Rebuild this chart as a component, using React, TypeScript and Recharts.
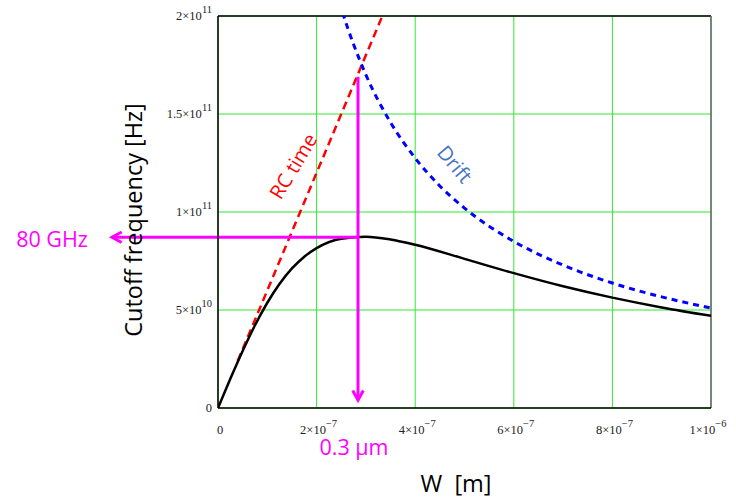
import { LineChart, Line, XAxis, YAxis, CartesianGrid, ReferenceLine } from "recharts";

// W [m] and cutoff frequency [Hz]
const totalW = [0, 2.5e-8, 5e-8, 7.5e-8, 1e-7, 1.25e-7, 1.5e-7, 1.75e-7, 2e-7, 2.5e-7, 3e-7, 3.5e-7, 4e-7, 5e-7, 6e-7, 7e-7, 8e-7, 9e-7, 1e-6];
const totalF = [0, 1.49e10, 2.91e10, 4.22e10, 5.37e10, 6.34e10, 7.12e10, 7.72e10, 8.16e10, 8.64e10, 8.74e10, 8.6e10, 8.33e10, 7.61e10, 6.88e10, 6.21e10, 5.63e10, 5.13e10, 4.7e10];

const rcW = [4e-8, 3.4e-7];
const rcF = [2.4e10, 2.04e11];

const driftW = [2.4e-7, 2.5e-7, 3e-7, 3.5e-7, 4e-7, 4.5e-7, 5e-7, 6e-7, 7e-7, 8e-7, 9e-7, 1e-6];
const driftF = [2.125e11, 2.04e11, 1.7e11, 1.457e11, 1.275e11, 1.133e11, 1.02e11, 8.5e10, 7.29e10, 6.375e10, 5.67e10, 5.1e10];

const xTicks = [0, 2e-7, 4e-7, 6e-7, 8e-7, 1e-6];
const xTickBase = ["0", "2×10", "4×10", "6×10", "8×10", "1×10"];
const xTickExp = ["", "−7", "−7", "−7", "−7", "−6"];

const yTicks = [0, 5e10, 1e11, 1.5e11, 2e11];
const yTickBase = ["0", "5×10", "1×10", "1.5×10", "2×10"];
const yTickExp = ["", "10", "11", "11", "11"];

// annotation: peak marker
const markW = 2.84e-7;
const markF = 8.71e10;
const arrowLeftW = -2.15e-7;
const vTopF = 1.69e11;
const vTipF = 4e9;

const toRows = (ws: number[], fs: number[]) => ws.map((w, i) => ({ w, f: fs[i] }));
const totalData = toRows(totalW, totalF);
const rcData = toRows(rcW, rcF);
const driftData = toRows(driftW, driftF);

const tickFont = "'Liberation Serif', 'Times New Roman', serif";
const labelFont = "'Open Sans', 'Noto Sans', sans-serif";
const MAGENTA = "#ff00ff";

function XTick(props: any) {
  const { x, y, payload } = props;
  const i = xTicks.indexOf(payload.value);
  return (
    <text x={x + 2} y={y + 18} textAnchor="middle" fontFamily={tickFont} fontSize={12.5} fill="#222">
      {xTickBase[i]}
      {xTickExp[i] && (
        <tspan dy={-7} fontSize={10.5}>
          {xTickExp[i]}
        </tspan>
      )}
    </text>
  );
}

function YTick(props: any) {
  const { x, y, payload } = props;
  const i = yTicks.indexOf(payload.value);
  return (
    <text x={x + 2} y={y + 4} textAnchor="end" fontFamily={tickFont} fontSize={12.5} fill="#222">
      {yTickBase[i]}
      {yTickExp[i] && (
        <tspan dy={-7} fontSize={10.5}>
          {yTickExp[i]}
        </tspan>
      )}
    </text>
  );
}

function Arrow(props: any) {
  const { x1, y1, x2, y2 } = props;
  const ang = Math.atan2(y2 - y1, x2 - x1);
  const len = 11;
  const spread = 0.5;
  const ax = x2 - len * Math.cos(ang - spread);
  const ay = y2 - len * Math.sin(ang - spread);
  const bx = x2 - len * Math.cos(ang + spread);
  const by = y2 - len * Math.sin(ang + spread);
  return (
    <g>
      <line x1={x1} y1={y1} x2={x2} y2={y2} stroke={MAGENTA} strokeWidth={3} />
      <polyline points={`${ax},${ay} ${x2},${y2} ${bx},${by}`} fill="none" stroke={MAGENTA} strokeWidth={3} />
    </g>
  );
}

export default function App() {
  return (
    <div style={{ position: "absolute", left: 0, top: 0, width: 736, height: 502, background: "#fff" }}>
      <LineChart width={736} height={502} margin={{ top: 16, right: 25, bottom: 64, left: 158 }}>
        <CartesianGrid stroke="#33e833" strokeWidth={1} />
        <XAxis
          type="number"
          dataKey="w"
          domain={[0, 1e-6]}
          ticks={xTicks}
          allowDataOverflow
          height={30}
          tickLine={false}
          axisLine={{ stroke: "#000", strokeWidth: 1.5 }}
          tick={<XTick />}
        />
        <YAxis
          type="number"
          dataKey="f"
          domain={[0, 2e11]}
          ticks={yTicks}
          allowDataOverflow
          width={60}
          tickLine={false}
          axisLine={{ stroke: "#000", strokeWidth: 1.5 }}
          tick={<YTick />}
        />
        <ReferenceLine y={2e11} stroke="#000" strokeWidth={1.5} />
        <ReferenceLine x={1e-6} stroke="#666" strokeWidth={1.5} />
        <Line data={rcData} dataKey="f" type="linear" stroke="#ff0000" strokeWidth={2.5} strokeDasharray="8 5" dot={false} isAnimationActive={false} />
        <Line data={driftData} dataKey="f" type="monotone" stroke="#0000ff" strokeWidth={3} strokeDasharray="6 5" dot={false} isAnimationActive={false} />
        <Line data={totalData} dataKey="f" type="monotone" stroke="#000" strokeWidth={2.5} dot={false} isAnimationActive={false} />
        <ReferenceLine
          segment={[{ x: markW, y: markF }, { x: arrowLeftW, y: markF }]}
          ifOverflow="visible"
          shape={Arrow}
        />
        <ReferenceLine
          segment={[{ x: markW, y: vTopF }, { x: markW, y: vTipF }]}
          ifOverflow="visible"
          shape={Arrow}
        />
      </LineChart>
      <svg width={736} height={502} style={{ position: "absolute", left: 0, top: 0, pointerEvents: "none" }}>
        <text x={133} y={220} transform="rotate(-90 133 220)" textAnchor="middle" dominantBaseline="central" fontFamily={labelFont} fontSize={23.5} fill="#000">
          Cutoff frequency [Hz]
        </text>
        <text x={456} y={483} textAnchor="middle" dominantBaseline="central" fontFamily={labelFont} fontSize={23.5} fill="#000" style={{ whiteSpace: "pre" }}>
          {"W  [m]"}
        </text>
        <text x={52} y={238} textAnchor="middle" dominantBaseline="central" fontFamily={labelFont} fontSize={21.5} fill={MAGENTA}>
          80 GHz
        </text>
        <text x={354} y={446} textAnchor="middle" dominantBaseline="central" fontFamily={labelFont} fontSize={21.5} fill={MAGENTA}>
          0.3 μm
        </text>
        <text x={293} y={166} transform="rotate(-59 293 166)" textAnchor="middle" dominantBaseline="central" fontFamily={labelFont} fontSize={20} fill="#ff0000">
          RC time
        </text>
        <text x={455} y={164} transform="rotate(50 455 164)" textAnchor="middle" dominantBaseline="central" fontFamily={labelFont} fontSize={20} fill="#4472c4">
          Drift
        </text>
      </svg>
    </div>
  );
}
